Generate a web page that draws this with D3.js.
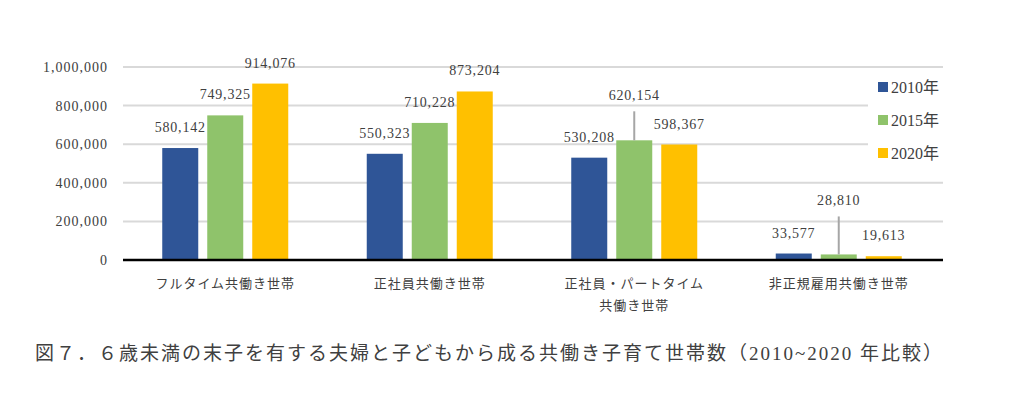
<!DOCTYPE html>
<html>
<head>
<meta charset="utf-8">
<script src="https://cdn.jsdelivr.net/npm/d3@7"></script>
<style>
  body { margin: 0; background: #fff; }
  svg { display: block; }
  .num { font-family: "Liberation Serif", "DejaVu Serif", serif; fill: #404040; }
  .jp { font-family: "Liberation Serif", "Noto Sans CJK JP", serif; fill: #404040; }
</style>
</head>
<body>
<svg width="1024" height="396"></svg>
<script>
// chart data
const categories = ["フルタイム共働き世帯", "正社員共働き世帯", "正社員・パートタイム\n共働き世帯", "非正規雇用共働き世帯"];
const seriesNames = ["2010年", "2015年", "2020年"];
const values2010 = [580142, 550323, 530208, 33577];
const values2015 = [749325, 710228, 620154, 28810];
const values2020 = [914076, 873204, 598367, 19613];
const yTicks = [0, 200000, 400000, 600000, 800000, 1000000];
const colors = ["#2f5597", "#8fc36b", "#ffc000"];
const title = "図７．６歳未満の末子を有する夫婦と子どもから成る共働き子育て世帯数（2010~2020 年比較）";

const series = [values2010, values2015, values2020];

const svg = d3.select("svg");

const x = d3.scaleBand()
    .domain(categories)
    .range([123, 941]);

const y = d3.scaleLinear()
    .domain([0, 1000000])
    .range([260, 67]);

const barW = 36, barStep = 45;

// gridlines
svg.append("g")
    .selectAll("line")
    .data(yTicks.filter(d => d > 0))
    .join("line")
    .attr("x1", 123)
    .attr("x2", 943)
    .attr("y1", d => y(d))
    .attr("y2", d => y(d))
    .attr("stroke", "#d9d9d9")
    .attr("stroke-width", 2);

// y axis labels
const yAxis = svg.append("g")
    .attr("transform", "translate(108,0)")
    .call(d3.axisLeft(y).tickValues(yTicks).tickFormat(d3.format(",")).tickSize(0).tickPadding(0));
yAxis.select(".domain").remove();
yAxis.selectAll("text")
    .attr("class", "num")
    .attr("font-size", 14)
    .attr("letter-spacing", 1)
    .attr("fill", "#404040");

// bars
const groups = svg.append("g")
    .selectAll("g")
    .data(series)
    .join("g")
    .attr("fill", (d, i) => colors[i]);

groups.selectAll("rect")
    .data((vals, si) => vals.map((v, ci) => ({ v, ci, si })))
    .join("rect")
    .attr("x", d => x(categories[d.ci]) + x.bandwidth() / 2 + (d.si - 1) * barStep - barW / 2)
    .attr("y", d => y(d.v))
    .attr("width", barW)
    .attr("height", d => y(0) - y(d.v));

// baseline
svg.append("line")
    .attr("x1", 123)
    .attr("x2", 943)
    .attr("y1", y(0))
    .attr("y2", y(0))
    .attr("stroke", "#000")
    .attr("stroke-width", 2.5);

// value labels; two labels are pulled up with a leader line
const lift = { "2|1": 40, "3|1": 49 };
const labels = series.flatMap((vals, si) => vals.map((v, ci) => ({ v, ci, si })));
const lx = d => x(categories[d.ci]) + x.bandwidth() / 2 + (d.si - 1) * barStep;

labels.forEach(d => {
    const extra = lift[d.ci + "|" + d.si];
    const base = y(d.v) - (extra || 16);
    if (extra) {
        svg.append("line")
            .attr("x1", lx(d)).attr("x2", lx(d))
            .attr("y1", base + 11).attr("y2", y(d.v))
            .attr("stroke", "#a6a6a6")
            .attr("stroke-width", 2);
    }
    svg.append("text")
        .attr("class", "num")
        .attr("x", lx(d))
        .attr("y", base)
        .attr("text-anchor", "middle")
        .attr("font-size", 14)
        .attr("letter-spacing", 0.8)
        .text(d3.format(",")(d.v));
});

// category labels
categories.forEach(c => {
    const lines = c.split("\n");
    const t = svg.append("text")
        .attr("class", "jp")
        .attr("text-anchor", "middle")
        .attr("font-size", 13)
        .attr("letter-spacing", 1);
    lines.forEach((ln, i) => {
        t.append("tspan")
            .attr("x", x(c) + x.bandwidth() / 2)
            .attr("y", 288 + i * 22)
            .text(ln);
    });
});

// legend with white backing over the gridlines
svg.append("rect")
    .attr("x", 868).attr("y", 72)
    .attr("width", 76).attr("height", 98)
    .attr("fill", "#fff");

const legend = svg.append("g")
    .selectAll("g")
    .data(seriesNames)
    .join("g")
    .attr("transform", (d, i) => `translate(878,${87 + i * 33})`);

legend.append("rect")
    .attr("x", 0).attr("y", -5)
    .attr("width", 10).attr("height", 10)
    .attr("fill", (d, i) => colors[i]);

legend.append("text")
    .attr("class", "jp")
    .attr("x", 13)
    .attr("y", 6)
    .attr("font-size", 16)
    .text(d => d);

// caption
svg.append("text")
    .attr("class", "jp")
    .attr("x", 35)
    .attr("y", 360)
    .attr("font-size", 19)
    .attr("letter-spacing", 2)
    .attr("fill", "#333")
    .text(title);
</script>
</body>
</html>
